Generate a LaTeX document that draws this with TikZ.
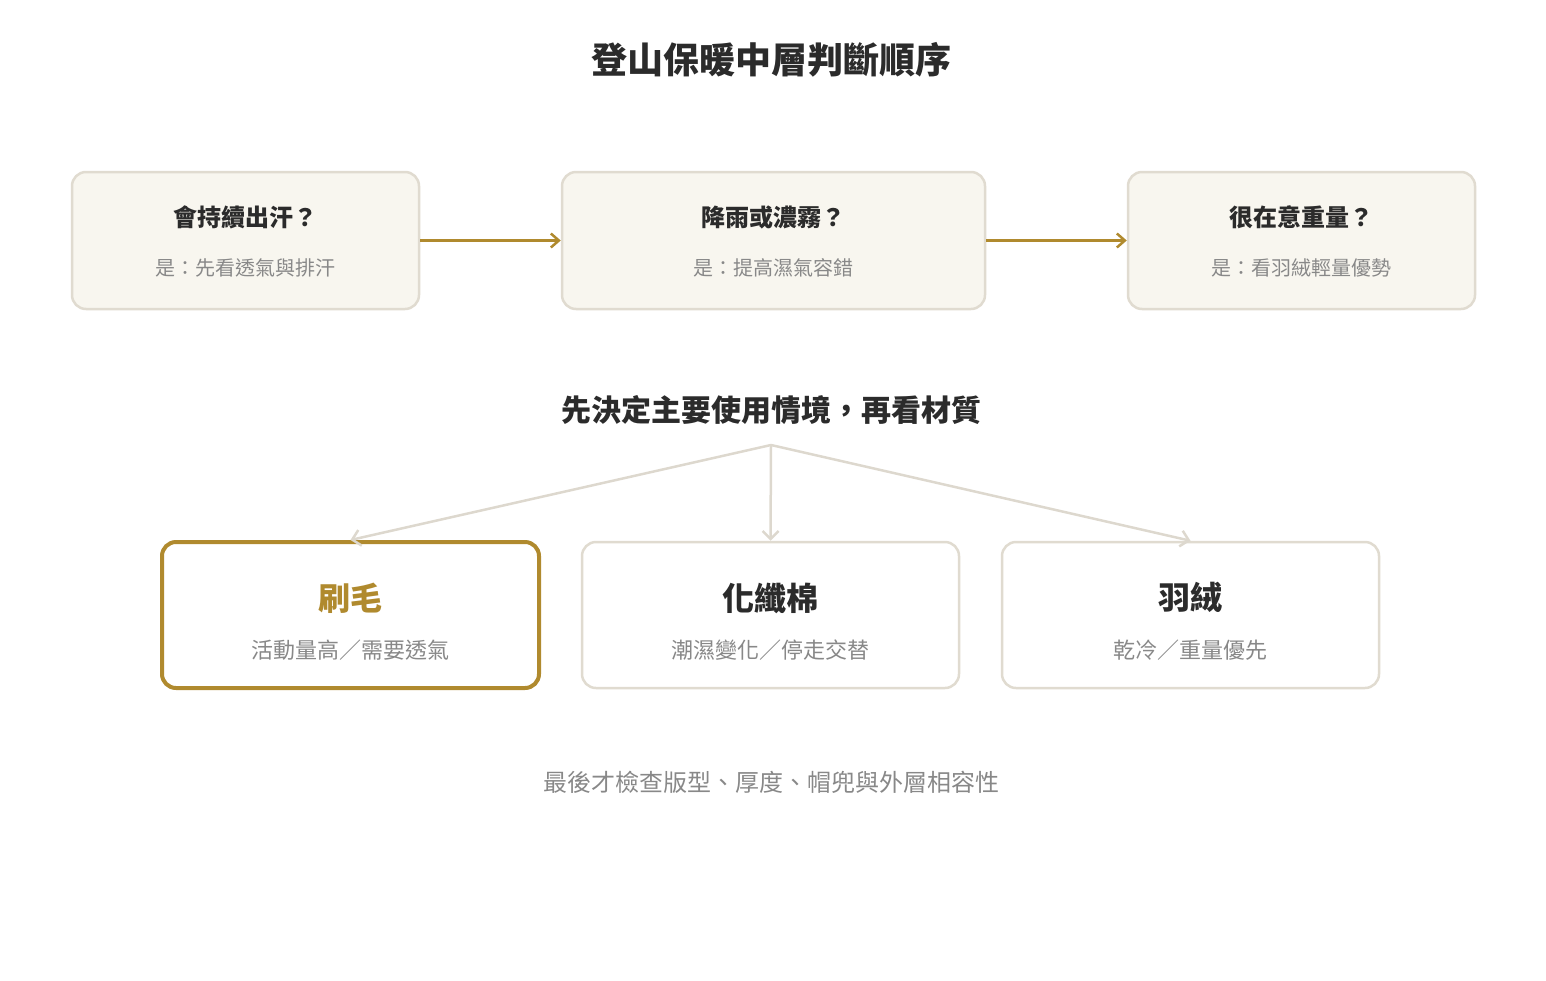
\documentclass[tikz,border=0pt]{standalone}
\usepackage{fontspec}
\newfontfamily\cjk{Noto Sans CJK TC}
\newfontfamily\cjkb{Noto Sans CJK TC Bold}
\usetikzlibrary{arrows.meta}
\definecolor{gold}{HTML}{B08A2E}
\definecolor{bord}{HTML}{E0DBD0}
\definecolor{boxf}{HTML}{F8F6EF}
\definecolor{ink}{HTML}{2B2B2B}
\definecolor{sub}{HTML}{888888}
\definecolor{lnk}{HTML}{DDD8CE}
\begin{document}
\begin{tikzpicture}[x=1pt,y=-1pt,
  top/.style={draw=bord,line width=2.5pt,fill=boxf,rounded corners=14pt},
  bot/.style={draw=bord,line width=2.5pt,fill=white,rounded corners=14pt},
  sel/.style={draw=gold,line width=4pt,fill=white,rounded corners=14pt},
  t1/.style={font=\cjk\bfseries\fontsize{24}{28}\selectfont,text=ink},
  s1/.style={font=\cjk\fontsize{20}{24}\selectfont,text=sub},
  t2/.style={font=\cjk\bfseries\fontsize{32}{36}\selectfont,text=ink},
  s2/.style={font=\cjk\fontsize{22}{26}\selectfont,text=sub},
  garr/.style={draw=gold,line width=2.5pt,-{Straight Barb[length=8pt,width=14pt]}},
  larr/.style={draw=lnk,line width=2.5pt,-{Straight Barb[length=8pt,width=16pt]}}]
\useasboundingbox (0,0) rectangle (1546,980);
\node[font=\cjk\bfseries\fontsize{36}{40}\selectfont,text=ink] (title) at (771,60) {登山保暖中層判斷順序};
\node[top,minimum width=347pt,minimum height=137pt] (a) at (245.5,240.5) {};
\node[top,minimum width=423pt,minimum height=137pt] (b) at (773.5,240.5) {};
\node[top,minimum width=347pt,minimum height=137pt] (c) at (1301.5,240.5) {};
\node[t1] (at) at (245,217) {會持續出汗？};
\node[s1] (as) at (245,268) {是：先看透氣與排汗};
\node[t1] (bt) at (773,217) {降雨或濃霧？};
\node[s1] (bs) at (773,268) {是：提高濕氣容錯};
\node[t1] (ct) at (1301,217) {很在意重量？};
\node[s1] (cs) at (1301,268) {是：看羽絨輕量優勢};
\draw[garr] (a.east) -- (b.west);
\draw[garr] (b.east) -- (c.west);
\node[font=\cjk\bfseries\fontsize{30}{34}\selectfont,text=ink] (mid) at (771,410) {先決定主要使用情境，再看材質};
\coordinate (hub) at (771,445);
\node[sel,minimum width=377pt,minimum height=146pt] (d) at (350.5,615) {};
\node[bot,minimum width=377pt,minimum height=146pt] (e) at (770.5,615) {};
\node[bot,minimum width=377pt,minimum height=146pt] (f) at (1190.5,615) {};
\draw[larr] (hub) -- (d.north);
\draw[larr] (hub) -- (e.north);
\draw[larr] (hub) -- (f.north);
\node[t2,text=gold] (dt) at (350,598) {刷毛};
\node[s2] (ds) at (350,650) {活動量高／需要透氣};
\node[t2] (et) at (770,598) {化纖棉};
\node[s2] (es) at (770,650) {潮濕變化／停走交替};
\node[t2] (ft) at (1190,598) {羽絨};
\node[s2] (fs) at (1190,650) {乾冷／重量優先};
\node[font=\cjk\fontsize{24}{28}\selectfont,text=sub] (foot) at (771,782) {最後才檢查版型、厚度、帽兜與外層相容性};
\end{tikzpicture}
\end{document}
